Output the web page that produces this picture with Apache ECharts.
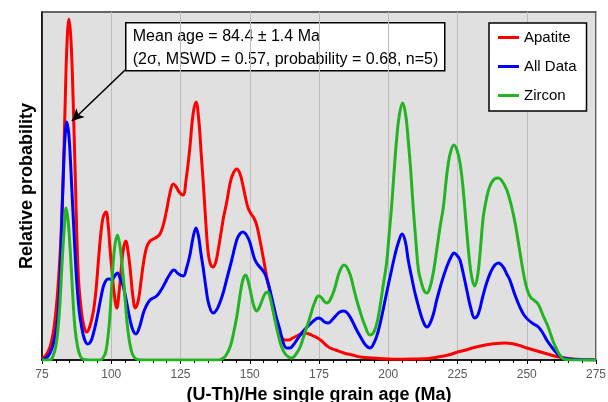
<!DOCTYPE html>
<html>
<head>
<meta charset="utf-8">
<script src="https://cdn.jsdelivr.net/npm/echarts@6/dist/echarts.min.js"></script>
<style>
  html, body { margin: 0; padding: 0; background: #fff; }
  #chart { width: 608px; height: 402px; }
</style>
</head>
<body>
<div id="chart"></div>
<script>
// age axis
const ageTicks = [75, 100, 125, 150, 175, 200, 225, 250, 275];

// [age (Ma), relative probability]
const apatite = [[75,1],[76.7,6],[78,14],[79.1,28],[80,48],[80.9,78],[81.7,115],[82.5,170],[83.3,250],[84,315],[84.75,341],[85.5,318],[86.3,255],[87,185],[88.1,85],[89.3,47],[90.2,33],[91.1,28],[92.2,33],[93.5,48],[94.5,70],[95.3,97],[96.3,128],[97.1,143],[98.1,148],[98.9,135],[99.5,113],[100.3,88],[101,68],[102,52],[102.9,70],[103.8,97],[104.5,113],[105.3,119],[106,110],[106.8,92],[107.8,64],[108.7,52],[109.8,60],[110.8,80],[111.8,100],[112.8,113],[114,119],[115.2,121],[116.5,123],[117.6,126],[118.8,135],[120,150],[121.2,167],[122.4,176],[123.5,173],[124.5,168],[125.9,165],[127,180],[128.4,213],[129.5,245],[130.6,258],[131.6,240],[132.5,205],[133.2,178],[134.2,135],[135,107],[135.8,96],[136.8,93],[137.5,96],[138.1,102],[139.5,125],[140.5,142],[141.7,158],[143,178],[144.1,187],[145.3,191],[146.5,186],[147.5,175],[148.5,162],[149.4,152],[150.5,146],[151.5,142],[152.5,135],[153.8,118],[154.9,102],[156,85],[157.3,68],[158.5,50],[160,33],[161.5,23],[162.7,20],[164,20],[165.5,22],[167,24],[168.5,26],[170,27],[171.5,26],[173,24],[174.5,22],[176,19],[177.5,15],[179,12],[181,10],[184,7],[187,5],[190,3],[195,2],[200,1],[205,0.8],[210,1],[213,1.2],[217,2.5],[220,4],[223,6],[225,8],[228,10],[231,12.5],[235,15],[238,16.3],[242,17],[245,16.3],[248,14],[250,12],[252.5,10],[255,8],[257.5,6],[260,4],[262.5,2.5],[265,1.5],[268,0.8],[275,0.2]];

const allData = [[75,0.5],[76.5,2],[77.9,7],[79.2,17],[80.3,33],[81,55],[81.5,80],[82.1,135],[82.7,185],[83.3,222],[84,238],[84.7,225],[85.3,198],[85.7,175],[86.6,125],[87.5,80],[88.4,50],[89.3,33],[90.3,21],[91.4,16],[92.5,18],[93.6,27],[94.7,40],[95.9,57],[97.1,73],[98,79],[98.8,81],[99.5,81],[100.2,80],[101.2,84],[102.2,87],[103.3,81],[104.4,73],[105.6,57],[106.8,40],[107.8,30],[108.9,26],[110.2,33],[111.6,47],[112.8,55],[114,60],[115.2,62],[116.4,64],[118,70],[119.4,77],[121,85],[122.6,90],[124.3,86],[126,84],[127.2,92],[128.4,105],[129.5,122],[130.6,132],[131.5,124],[132.3,108],[133.2,92],[134.2,72],[135.2,56],[136.8,47],[138,50],[139.3,58],[140.5,68],[141.8,82],[143.5,100],[145.3,120],[146.4,126],[147.5,128],[148.8,125],[150,118],[151,108],[151.9,100],[153,95],[154.3,91],[155.5,86],[156.7,76],[157.9,63],[159.4,45],[160.9,30],[162,18],[163.3,12],[164.5,12],[165.7,15],[167,20],[168.5,26],[170,31],[171.1,34],[173,39],[174.8,42],[175.8,41],[177,38],[178.3,37],[179.7,40],[181,44],[182.5,48],[184,49],[185.5,46],[187,39],[188.6,30],[190.2,22],[191.8,15],[193.4,12],[195,18],[196.3,28],[197.6,43],[199.4,67],[201.2,90],[202.5,106],[203.6,117],[205,126],[206.2,118],[207.2,100],[208.5,82],[209.4,70],[210.3,60],[211.8,45],[213,36],[214,33],[215.3,38],[216.5,48],[217.5,60],[219.3,78],[221.1,93],[222.5,102],[223.8,107],[225,104],[225.9,100],[227.2,85],[228.5,68],[229.8,52],[231.2,42],[232.5,46],[234,62],[235.5,77],[237,88],[238.5,95],[239.8,97],[241.5,93],[242.8,86],[243.9,80],[245.5,67],[247.5,53],[249,45],[250.6,40],[252.5,36],[254.2,33],[255.8,27],[257.2,20],[259,13],[260.8,7],[262,4],[263.2,2],[265,1],[268,0.5],[275,0.1]];

const zircon = [[75,0],[78,0.3],[79,4],[80,14],[80.8,32],[81.5,58],[82.2,95],[83,130],[83.7,152],[84.4,140],[85,118],[85.7,85],[86.3,55],[86.9,32],[87.8,14],[88.8,4],[90,0.5],[92,0],[96,0],[97,2],[98,8],[99,28],[99.7,52],[100.4,85],[101.2,112],[102.2,125],[103.2,113],[104,92],[104.6,75],[105.3,50],[106,30],[106.8,15],[107.8,5],[109,1],[111,0],[139,0],[140.5,2],[141.5,5],[142.9,13],[144,25],[145.3,43],[146.5,65],[147.5,80],[148.5,85],[149.5,78],[150.7,63],[151.6,53],[152.5,49],[153.5,53],[154.8,62],[155.7,67],[156.5,68],[157.3,63],[158.2,52],[159.1,40],[160.3,25],[161.5,13],[162.8,6],[164,3],[165.1,2],[166.2,4],[167.2,8],[168.2,13],[169.3,22],[170.2,30],[171.1,37],[172.3,48],[173.5,58],[174.8,64],[175.7,63],[176.8,59],[177.8,57],[179,60],[180.5,70],[182,85],[183,92],[184,95],[185,93],[186.3,85],[187.4,73],[188.6,60],[190,47],[191.5,35],[193.4,25],[194.8,28],[196,38],[197,53],[198.2,75],[199.4,97],[200.3,125],[201.2,153],[202.1,188],[203,220],[204,245],[205.2,257],[206.3,245],[207.2,220],[208.1,190],[209,153],[210,118],[210.9,90],[212,77],[213,69],[213.9,67],[215,72],[216.3,88],[217.5,110],[218.7,133],[219.9,153],[220.8,177],[221.7,197],[222.7,210],[223.7,215],[224.8,210],[225.9,197],[227,172],[228.3,130],[229.3,100],[230.2,82],[231.2,74],[232.3,85],[233.3,112],[234.3,143],[235.5,162],[236.7,174],[238.3,181],[239.8,182],[241.3,178],[242.8,170],[244.3,156],[245.8,137],[247.3,112],[248.8,87],[249.7,75],[250.6,67],[251.6,62],[252.5,60],[253.8,57],[254.8,52],[255.8,45],[256.8,39],[257.6,34],[258.6,26],[259.6,18],[260.6,12],[261.7,6],[262.8,2],[264,0.5],[266,0],[275,0]];

// arrow from the note box to the youngest peak
const arrowFrom = [105.0, 290];
const arrowTo = [85.8, 239];

const FONT = 'Liberation Sans, Arial, sans-serif';

let chart = echarts.init(document.getElementById('chart'));

let line = (name, data, color) => ({
	name: name,
	type: 'line',
	data: data,
	showSymbol: false,
	smooth: 0.4,
	lineStyle: { color: color, width: 3 },
	itemStyle: { color: color },
	z: 3,
});

let blue = line('All Data', allData, '#0000ff');
blue.markLine = {
	silent: true,
	symbol: ['none', 'arrow'],
	symbolSize: [9, 12],
	label: { show: false },
	lineStyle: { color: '#000', width: 1.6, type: 'solid' },
	data: [[{ coord: arrowFrom }, { coord: arrowTo }]],
	z: 10,
};

chart.setOption({
	animation: false,
	textStyle: { fontFamily: FONT },
	grid: {
		left: 42, right: 12, top: 12, bottom: 42,
		outerBoundsMode: 'none',
		show: true,
		backgroundColor: '#e0e0e0',
		borderColor: '#3a3a3a',
		borderWidth: 1.5,
	},
	xAxis: {
		type: 'value',
		min: ageTicks[0],
		max: ageTicks[ageTicks.length - 1],
		interval: 25,
		name: '(U-Th)/He single grain age (Ma)',
		nameLocation: 'middle',
		nameGap: 25,
		nameTextStyle: { fontSize: 18, fontWeight: 'bold', color: '#000', fontFamily: FONT },
		axisLine: { lineStyle: { color: '#000', width: 1.5 } },
		axisTick: { length: 4, lineStyle: { color: '#000' } },
		minorTick: { show: true, splitNumber: 5, length: 3, lineStyle: { color: '#000' } },
		axisLabel: { fontSize: 12, color: '#595959', margin: 9 },
		splitLine: { show: true, lineStyle: { color: '#bcbcbc', width: 1 } },
	},
	yAxis: {
		type: 'value',
		min: 0,
		max: 348,
		name: 'Relative probability',
		nameLocation: 'middle',
		nameRotate: 90,
		nameGap: 6,
		nameTextStyle: { fontSize: 18, fontWeight: 'bold', color: '#000', fontFamily: FONT },
		axisLine: { show: true, lineStyle: { color: '#000', width: 1.5 } },
		axisTick: { show: false },
		axisLabel: { show: false },
		splitLine: { show: false },
	},
	legend: {
		orient: 'vertical',
		left: 489,
		top: 23,
		padding: [6, 10, 7, 9],
		itemGap: 12,
		itemWidth: 21,
		itemHeight: 3,
		icon: 'rect',
		backgroundColor: '#fff',
		borderColor: '#000',
		borderWidth: 1.5,
		borderRadius: 0,
		textStyle: { fontSize: 15, color: '#000', lineHeight: 17, fontFamily: FONT },
		data: ['Apatite', 'All Data', 'Zircon'],
	},
	graphic: [{
		type: 'group',
		left: 125,
		top: 22,
		z: 20,
		children: [{
			type: 'rect',
			shape: { x: 0, y: 0, width: 319, height: 48 },
			style: { fill: '#fff', stroke: '#000', lineWidth: 1.5 },
		}, {
			type: 'text',
			x: 7, y: 14,
			style: { text: 'Mean age = 84.4 ± 1.4 Ma', font: '16px ' + FONT, fill: '#000', verticalAlign: 'middle' },
		}, {
			type: 'text',
			x: 7, y: 37,
			style: { text: '(2σ, MSWD = 0.57, probability = 0.68, n=5)', font: '16px ' + FONT, fill: '#000', verticalAlign: 'middle' },
		}],
	}],
	series: [
		line('Apatite', apatite, '#ff0000'),
		blue,
		line('Zircon', zircon, '#22b422'),
	],
});
</script>
</body>
</html>
